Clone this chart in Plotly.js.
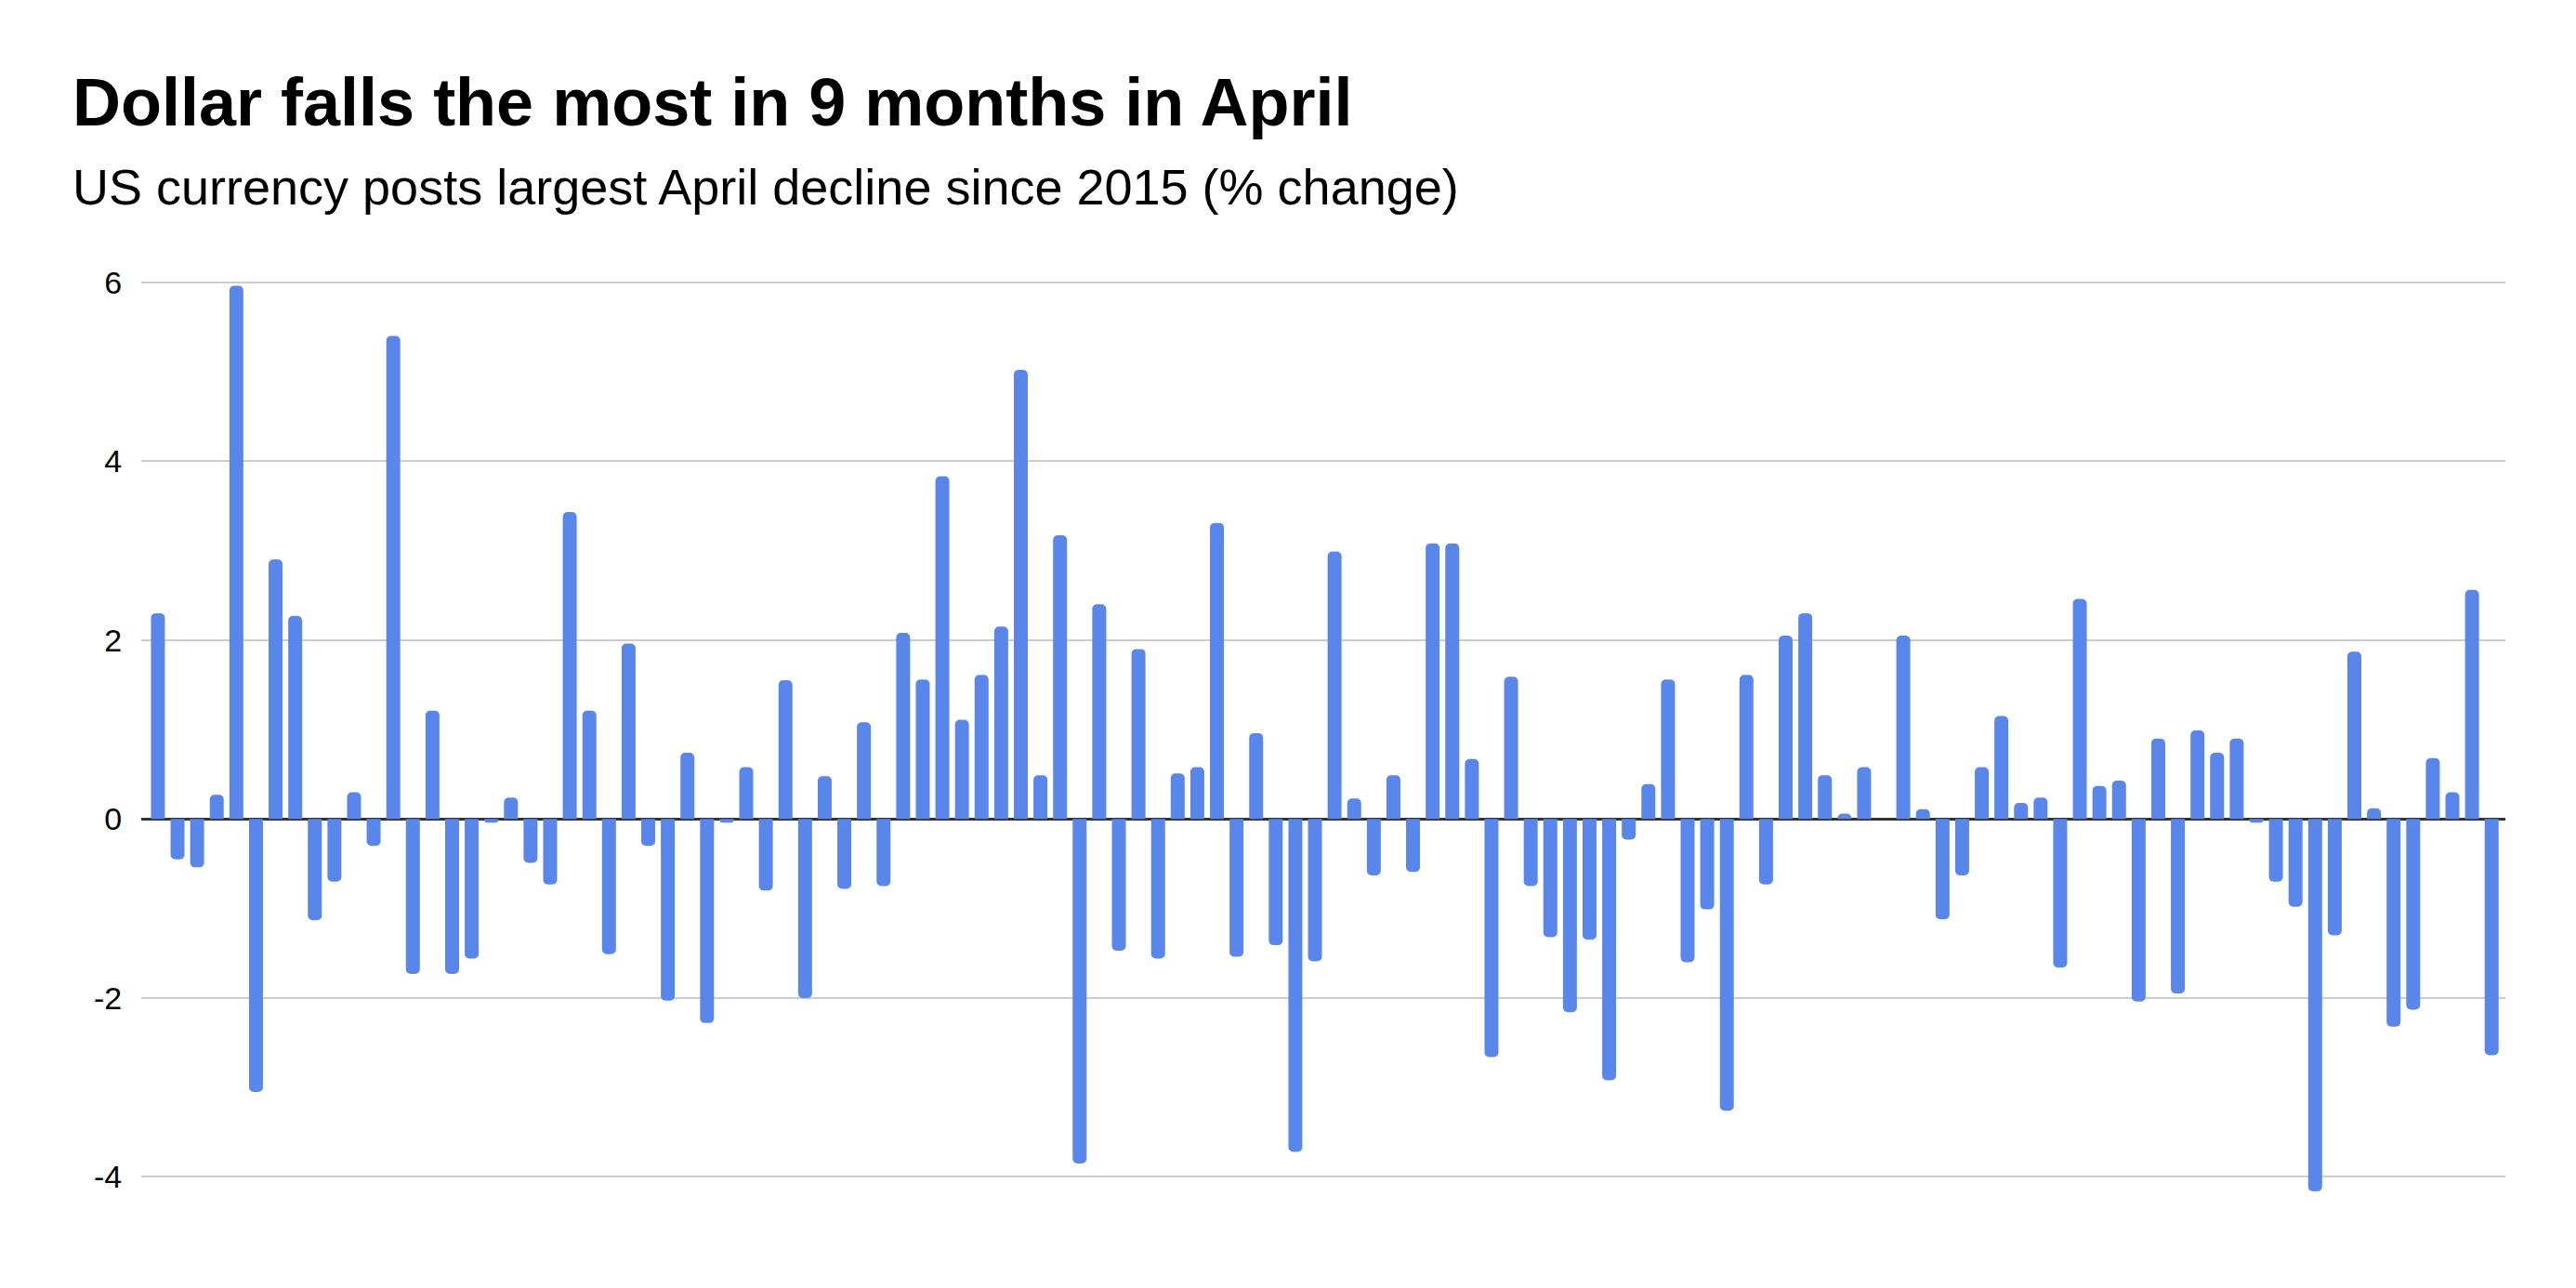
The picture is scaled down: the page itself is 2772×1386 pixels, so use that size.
<!DOCTYPE html>
<html>
<head>
<meta charset="utf-8">
<script src="https://cdn.plot.ly/plotly-3.0.1.min.js"></script>
<style>
  html, body { margin: 0; padding: 0; background: #ffffff; }
  #chart { width: 2772px; height: 1386px; }
</style>
</head>
<body>
<div id="chart"></div>
<script>
// monthly % change of the US dollar
const changes = [
    2.30, -0.45, -0.54, 0.27, 5.96, -3.05, 2.90, 2.27, -1.13, -0.70,
    0.30, -0.30, 5.40, -1.73, 1.21, -1.73, -1.56, -0.04, 0.24, -0.49,
    -0.73, 3.43, 1.21, -1.51, 1.96, -0.30, -2.03, 0.74, -2.28, -0.04,
    0.58, -0.80, 1.55, -2.00, 0.48, -0.78, 1.08, -0.75, 2.08, 1.56,
    3.83, 1.11, 1.61, 2.15, 5.02, 0.49, 3.17, -3.85, 2.40, -1.47,
    1.90, -1.56, 0.51, 0.58, 3.31, -1.54, 0.96, -1.41, -3.72, -1.59,
    2.99, 0.23, -0.63, 0.49, -0.59, 3.08, 3.08, 0.67, -2.66, 1.59,
    -0.75, -1.32, -2.16, -1.35, -2.92, -0.23, 0.39, 1.56, -1.60, -1.01,
    -3.26, 1.61, -0.73, 2.05, 2.30, 0.49, 0.06, 0.58, 0.00, 2.05,
    0.11, -1.12, -0.63, 0.58, 1.15, 0.18, 0.24, -1.66, 2.46, 0.37,
    0.43, -2.04, 0.90, -1.95, 0.99, 0.74, 0.90, -0.04, -0.70, -0.98,
    -4.16, -1.30, 1.87, 0.12, -2.32, -2.13, 0.68, 0.30, 2.56, -2.64
];
// one category per month, no labels shown on the axis
const months = changes.map((_, i) => i);

const yTicks = [-4, -2, 0, 2, 4, 6];
const yTickLabels = ["-4", "-2", "0", "2", "4", "6"];

const titleText = "Dollar falls the most in 9 months in April";
const subtitleText = "US currency posts largest April decline since 2015 (% change)";

const fontFamily = "Liberation Sans, Arial, sans-serif";

Plotly.newPlot("chart", [
    {
        type: "bar",
        x: months,
        y: changes,
        width: 0.71,
        marker: { color: "#5886ea", line: { width: 0 }, cornerradius: 5 },
        hoverinfo: "y"
    }
], {
    width: 2772,
    height: 1386,
    paper_bgcolor: "#ffffff",
    plot_bgcolor: "#ffffff",
    margin: { l: 152, r: 76, t: 294, b: 81, pad: 0 },
    showlegend: false,
    font: { family: fontFamily, color: "#000000" },
    xaxis: {
        range: [-0.85, 119.7],
        showticklabels: false,
        showgrid: false,
        zeroline: false,
        showline: false,
        ticks: ""
    },
    yaxis: {
        range: [-4.4, 6.1],
        tickvals: yTicks,
        ticktext: yTickLabels,
        tickfont: { size: 34, family: fontFamily, color: "#000000" },
        ticks: "outside",
        ticklen: 13,
        tickcolor: "rgba(0,0,0,0)",
        showgrid: true,
        gridcolor: "#cccccc",
        gridwidth: 2,
        zeroline: true,
        zerolinecolor: "#333333",
        zerolinewidth: 2.5,
        showline: false
    },
    annotations: [
        {
            text: "<b>" + titleText + "</b>",
            xref: "paper", yref: "paper",
            x: (76 - 152) / 2544, y: (1305.5 - 110) / 1011.1,
            xanchor: "left", yanchor: "middle",
            showarrow: false,
            font: { size: 72, family: fontFamily, color: "#000000" }
        },
        {
            text: subtitleText,
            xref: "paper", yref: "paper",
            x: (76 - 152) / 2544, y: (1305.5 - 201) / 1011.1,
            xanchor: "left", yanchor: "middle",
            showarrow: false,
            font: { size: 54, family: fontFamily, color: "#000000" }
        }
    ]
}, { displayModeBar: false, staticPlot: true });
</script>
</body>
</html>
